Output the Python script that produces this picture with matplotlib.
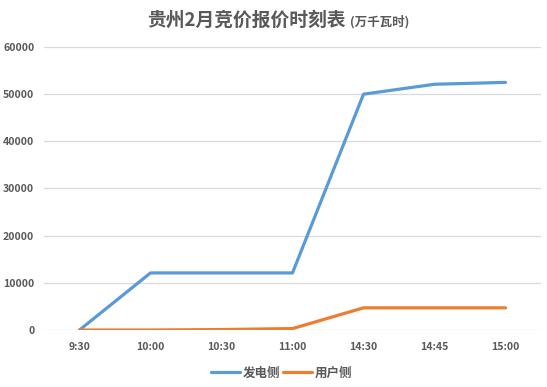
import matplotlib
matplotlib.use('Agg')
import matplotlib.pyplot as plt

plt.rcParams['font.family'] = ['Noto Sans CJK SC', 'DejaVu Sans']

# data
times = ['9:30', '10:00', '10:30', '11:00', '14:30', '14:45', '15:00']
gen_side = [0, 12100, 12100, 12100, 50000, 52100, 52500]
user_side = [0, 0, 100, 300, 4700, 4700, 4700]

BLUE = '#5B9BD5'
ORANGE = '#ED7D31'
GREY = '#595959'

fig = plt.figure(figsize=(5.47, 3.87), dpi=100)
ax = fig.add_axes([44/547, 1 - 330/387, 497/547, 283/387])

x = range(len(times))
ax.plot(x, gen_side, color=BLUE, lw=2.3, label='发电侧', solid_capstyle='round')
ax.plot(x, user_side, color=ORANGE, lw=2.3, label='用户侧', solid_capstyle='round')

ax.set_xlim(-0.5, len(times) - 0.5)
ax.set_ylim(0, 60000)
ax.set_yticks(range(0, 60001, 10000))
ax.set_xticks(list(x))
ax.set_xticklabels(times)

ax.grid(axis='y', color='#D9D9D9', lw=0.9)
ax.set_axisbelow(True)
for s in ax.spines.values():
    s.set_visible(False)
ax.tick_params(length=0, colors=GREY, labelsize=7.6)
ax.tick_params(axis='y', pad=7)
ax.tick_params(axis='x', pad=9)
for lbl in ax.get_xticklabels() + ax.get_yticklabels():
    lbl.set_fontweight('bold')

# title in two parts: main + unit
ty = 1 - 26/387
fig.text(346/547, ty, '贵州2月竞价报价时刻表', ha='right', va='baseline',
         fontsize=13.5, fontweight='bold', color=GREY)
fig.text(350/547, ty, '(万千瓦时)', ha='left', va='baseline',
         fontsize=9, fontweight='bold', color=GREY)

leg = fig.legend(loc='center', bbox_to_anchor=(282/547, 1 - 373/387), ncol=2,
                 frameon=False, handlelength=2.3, handletextpad=0.25,
                 columnspacing=0.2, prop={'size': 9, 'weight': 'bold'})
for t in leg.get_texts():
    t.set_color(GREY)

fig.savefig('out.png', dpi=100)
